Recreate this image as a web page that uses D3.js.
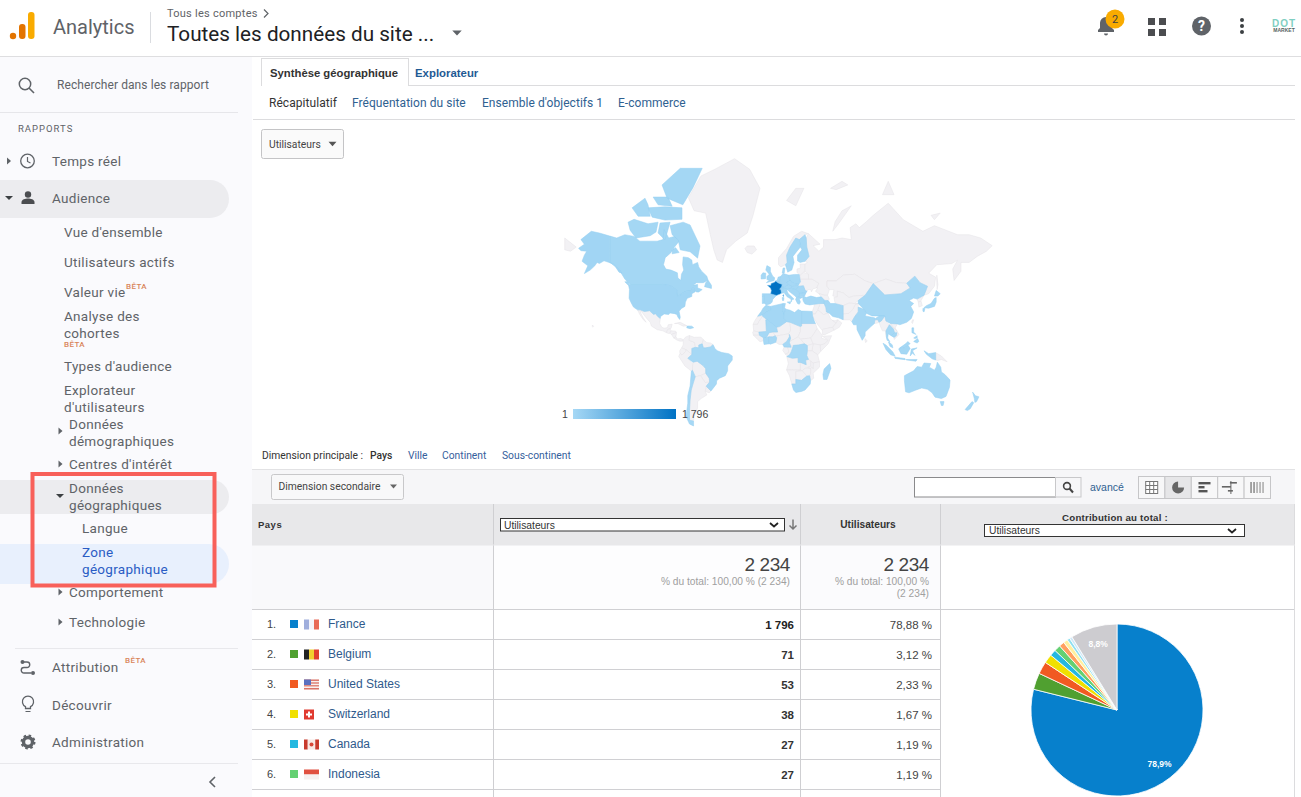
<!DOCTYPE html>
<html lang="fr">
<head>
<meta charset="utf-8">
<title>Analytics</title>
<script src="https://cdn.jsdelivr.net/npm/d3@7/dist/d3.min.js"></script>
<style>
  html, body { margin: 0; padding: 0; background: #fff; overflow: hidden; }
  svg { display: block; }
  text { white-space: pre; }
</style>
</head>
<body>
<svg id="page" width="1301" height="797"></svg>
<script>
// table data
var rowRanks = ["1.", "2.", "3.", "4.", "5.", "6."];
var rowCountries = ["France", "Belgium", "United States", "Switzerland", "Canada", "Indonesia"];
var rowUsers = [1796, 71, 53, 38, 27, 27];
var rowUserLabels = ["1 796", "71", "53", "38", "27", "27"];
var rowPctLabels = ["78,88 %", "3,12 %", "2,33 %", "1,67 %", "1,19 %", "1,19 %"];

// pie data, percent of total (after the 6th row estimated from the slices)
var pieNames = ["France", "Belgium", "United States", "Switzerland", "Canada", "Indonesia", "7", "8", "9", "10", "Autre"];
var pieShares = [78.88, 3.12, 2.33, 1.67, 1.19, 1.19, 1.0, 0.8, 0.54, 0.48, 8.8];
var pieLabels = ["78,9%", "", "", "", "", "", "", "", "", "", "8,8%"];
var pieColors = ["#0780cc", "#50a030", "#f15a22", "#f0e000", "#24b8e0", "#64d072", "#ffa060", "#fff0a0", "#90e0f0", "#d0e8f8", "#cdccd0"];

// map data: countries with visits, rest stays gray
var mapCountries = ["France", "Belgium", "United States", "Switzerland", "Canada", "Indonesia", "Morocco", "Algeria", "Tunisia", "Germany", "Spain", "United Kingdom", "Italy", "Netherlands", "Portugal", "Brazil", "China", "India", "Japan", "Australia", "Sweden", "Finland", "Poland", "Romania", "Greece", "Turkey", "Iran", "Libya", "Egypt", "Ghana", "Mali", "Ivory Coast", "Cameroon", "DR Congo", "Madagascar", "South Africa", "Chile", "New Zealand", "Thailand", "Cambodia", "Malaysia", "Philippines", "Dominican Rep.", "Denmark", "Austria", "Czechia", "Hungary", "Ireland", "Bulgaria", "Balkans"];
var mapUsers = [1796, 71, 53, 38, 27, 27, 22, 18, 12, 11, 10, 9, 9, 8, 7, 5, 5, 4, 4, 4, 3, 2, 3, 3, 2, 3, 2, 1, 2, 3, 2, 3, 1, 2, 2, 2, 1, 1, 2, 2, 2, 1, 1, 2, 2, 1, 1, 1, 1, 1];
var legendMin = 1, legendMax = 1796, legendMinLabel = "1", legendMaxLabel = "1 796";

// country outlines, lon,lat; "|" separates parts of a country
var outlines = {
  "Greenland": "-73,78.5 -68,76 -58,75.5 -54,70 -51,65 -48,61 -43.5,60 -40,65 -32,68 -22,70.5 -17,75 -11,80 -20,82.5 -33,83.6 -50,82.5 -62,81.7",
  "Iceland": "-24,65.5 -22,64 -18,63.4 -14,65 -16,66.4 -22,66.4",
  "Hawaii": "-156,20.8 -155,19.8 -155.8,19 -156.2,19.8",
  "Mexico": "-117,32.5 -114.8,32.5 -111,31.3 -106.5,31.8 -103,29 -101.5,29.7 -99.5,27.5 -97.3,26 -97.8,22 -96,19 -94,18.2 -91,18.7 -90.5,21 -87,21.5 -88,18 -89,17.8 -91,17 -92,14.5 -95,16 -100,17 -105,20 -106,23 -109.5,26.5 -112.5,30 -113,31 -114.7,31 -112,26.5 -109.5,23 -112,25 -115,29",
  "Guatemala": "-92,14.5 -91,17 -89,17.8 -88,16 -89,14 -90,13.7",
  "Honduras": "-89,14 -88,16 -84,15.8 -83.3,14.5 -87.5,13",
  "Nicaragua": "-87.5,13 -83.3,14.5 -83.7,11 -85.7,10",
  "Panama": "-85.7,10 -83.7,11 -82.5,9.2 -79.5,9.5 -77.3,8.5 -78,7.3 -80.5,7.3 -83,8.3",
  "Cuba": "-85,22 -80,23 -74.2,20.2 -77.5,19.9 -82,22",
  "Colombia": "-77.3,8.5 -75.5,10.7 -72,12.2 -72.3,8 -67.5,6.2 -67,2 -70,1 -70,-4.2 -72,-2.5 -75,0 -78.8,1.5 -77.5,4",
  "Venezuela": "-72,12 -68,10.6 -62,10.7 -60,8.5 -61,5 -64,4 -64,1.5 -67,2 -67.5,6.2 -72.3,8",
  "Guyanas": "-60,8.5 -57,6 -54,5.8 -51.6,4.3 -54,2.3 -58,1.5 -60,1.5 -61,5",
  "Ecuador": "-78.8,1.5 -75,0 -75.3,-1.5 -78.5,-4.8 -80.3,-3.3 -80.5,-1",
  "Peru": "-80.3,-3.3 -78.5,-4.8 -75.3,-1.5 -75,0 -72,-2.5 -70,-4.2 -73.5,-7.5 -70.5,-11 -69,-12.5 -69.5,-17.5 -70.4,-18.3 -76,-14 -81.3,-6",
  "Bolivia": "-69,-10.9 -65.4,-10 -60.3,-13.7 -58,-16.3 -58,-20 -62.5,-22 -67,-22.8 -69.5,-17.5",
  "Paraguay": "-62.5,-22 -58,-20 -55,-24 -54.6,-27 -58.5,-27.3",
  "Uruguay": "-57.6,-30.2 -53.4,-33.7 -55,-35 -58.4,-34",
  "Argentina": "-67,-22.8 -62.5,-22 -58.5,-27.3 -54.6,-27 -57.6,-30.2 -58.4,-34 -57,-36.5 -62,-39 -65,-41 -65,-45 -68,-50 -68.5,-52.5 -72,-52 -72,-47 -71.5,-40 -70.5,-33 -68.5,-27",
  "W. Sahara": "-13,27.7 -8.7,27.7 -12,23.5 -13,21.3 -17,21.3 -16,23.5",
  "Mauritania": "-17,21.3 -13,21.3 -12,23.5 -8.7,27.7 -4.8,25 -6,25 -5.5,15.5 -12,15 -16.5,16",
  "Senegal": "-17.3,14.7 -16.5,16 -12,15 -11.5,12.3 -16.7,12.4",
  "Guinea": "-16.7,12.4 -11.5,12.3 -8,10.2 -8,7.6 -11,6.8 -13.3,9",
  "Burkina": "-5.5,10.5 -3,14.5 0,15 2.3,12 0,11 -3,11",
  "Niger": "4.2,15 3.3,19 6,19.5 12,23.5 15,23 15.5,16 13.5,13.5 3.5,11.8 2.3,12 0,15",
  "Nigeria": "2.7,6.3 3.5,10 3.5,11.8 13.5,13.5 14.5,11 12,7 8.7,4.5 5.5,4.5",
  "Chad": "15,23 24,19.5 24,15.5 22,11 18.5,9 15.5,7.5 15.5,10 14.5,13 13.5,13.5 15.5,16",
  "Sudan": "24,19.5 25,20 25,22 37,22 38.5,18 36,14 33,10 24,9 22,11 24,15.5",
  "South Sudan": "24,9 33,10 35,5 30,3.5 27.5,5",
  "CAR": "14.5,6 15.5,7.5 18.5,9 22,11 24,9 27.5,5 22,4 16,3",
  "Ethiopia": "36,14 38.5,18 43,12 42,10 48,8 45,5 41.5,4 35,5 33,10",
  "Somalia": "43,11.5 51,12 48,5 41.5,-1.6 41,4 45,5 48,8",
  "Kenya": "35,5 41,4 41.5,-1.6 39,-4.6 34,-1",
  "Uganda": "30,3.5 35,5 34,-1 30,-1",
  "Tanzania": "30,-1 34,-1 39,-4.6 40.5,-10.5 35,-11.5 31,-8.5 29.5,-5",
  "Gabon": "9.8,2.3 13,2.3 14,-2.5 11,-4 8.7,-0.8",
  "Congo": "13,2.3 16,3 18,3.7 16,-2 14.5,-4.7 12,-5 11,-4 14,-2.5",
  "Angola": "12.2,-6 17,-7.5 22,-7 22,-11 24,-11 24,-17.5 12,-17.3 13.5,-12",
  "Zambia": "24,-11 29,-13 28.5,-9 31,-8.5 33,-10 33,-14 28,-16 25.5,-18 24,-17.5",
  "Zimbabwe": "25.5,-18 28,-16 33,-16 32.8,-21 29.5,-22.3",
  "Mozambique": "35,-11.5 40.5,-10.5 40.5,-15 35,-20 35.5,-24 32.8,-26 32,-22 32.8,-21 33,-16 30,-15.5 33,-14.5 35,-16",
  "Malawi": "33,-10 35,-11.5 35,-16 33,-14.5",
  "Namibia": "12,-17.3 24,-17.5 25,-18 20,-18.5 20,-28.5 16.5,-28.5 14.5,-22",
  "Botswana": "20,-18.5 25.5,-18 29.5,-22.3 25,-25.7 20,-25",
  "Ukraine": "24,50.5 24,52 31,52 34,52 40,49.7 38,47 35,46.5 33.5,44.6 33,46 30.5,46 29.7,45 28.2,45.4 26.6,48.3 22.8,48 22.5,49.1",
  "Belarus": "24,52 23.5,53.9 26.5,55.5 31,54.5 31,52",
  "Baltics": "23,54.3 23.5,53.9 26.5,55.5 28,56 28,59.3 23.7,59.3 24,57.5 21,57 21,55.3",
  "Norway": "5,59 7,58 11,59 12.5,60 12,63 15,66 20,69 23,68.5 28,70 31,70.3 25,71 18,69.5 12,65.5 5,62",
  "Svalbard": "12,78 20,80 27,80 20,77",
  "Novaya Zemlya": "52,71 57,73 68,77 60,76 54,73.5",
  "Franz Josef": "50,80 60,81 65,80.5 55,79.8",
  "Severnaya": "95,79 105,79 100,81",
  "New Siberian": "137,75 145,75.5 140,74",
  "Russia": "31,70.3 41,67 35,66.5 40,64.5 44,66 44,68.5 54,68.5 60,69 68,68.5 67,72 72,73 75,72 81,73.5 87,75 100,77.5 113,74 130,71 140,72.5 160,70 170,70 180,69 190,66.5 185,64.5 177,62.5 170,60 163,60 163,56 157,51.2 155.8,57 160,61 155,59.5 142,59 135,55 141,53 140,48 135,43.5 131,42.5 134,48 127.5,50 123,53.5 116,49.7 107,50 98,52 87,49.5 80,51 71,54.5 61,54 55,51 47,51 47,48 49,46 47.5,42.5 45,42.5 40,43.5 37,45 39,47 38,47 40,49.7 34,52 31,52 31,54.5 28,56 28,59.3 30,60 28,60.5 31.5,62.5 29.5,66 29,69|-180,69 -170,66 -175,64.5 -180,65|142,54 143,49 142.3,46 142,50",
  "Kazakhstan": "47,48 47,51 55,51 61,54 71,54.5 80,51 87,49.5 80,42.5 70,42 66,41 61,44 56,45 56,41.5 52,42 53,46 49,46",
  "Uzbekistan": "56,45 61,44 66,41 70,42 80,42.5 74,39 71,37 66,37.3 61,35.5 54,37.3 53,41 56,41.5",
  "Mongolia": "87,49.5 98,52 107,50 116,49.7 119,47 111,43.5 97,42.7",
  "North Korea": "125,40 131,42.5 128,38.5 126,38",
  "South Korea": "126,38 128.5,38.5 129.5,35.5 126.5,34.5",
  "Taiwan": "120.2,23 121,25 122,25 121,22",
  "Pakistan": "61,25 61,29.5 66,30 69.5,33 71.5,36.5 74,37 74,34.5 74,31 71,27.5 68.5,23.5 66.5,25",
  "Afghanistan": "61,35.5 66,37.3 71,37 74,37 71.5,36.5 69.5,33 66,30 61,29.5 61,32",
  "Iraq": "39,32.5 41,37 44.5,37 46,34 46.5,31 48,30 44,29",
  "Syria": "36,36.5 41,37 39,32.5 37,29.5 35,29.5 34.3,31.3 35.8,35",
  "Saudi Arabia": "34.5,28 35,29.5 37,29.5 39,32.5 44,29 48,30 50,26 51.5,24.5 55,22.5 52,19 44,17.5 42.7,16.5 39,21",
  "Yemen": "43,13 43,16.7 44,17.5 52,19 53,16.5 45,12.8",
  "Oman": "53,16.5 52,19 55,22.5 56.3,25 59.8,22.5 57.7,19",
  "UAE": "51.5,24.5 55,22.5 56.3,25 54,24.2",
  "Caucasus": "40,43.5 45,42.5 47.5,42.5 49,40 48,39 44.5,39.5 42,41.5",
  "Myanmar": "92,23 94,24 97,28 98,24 101,21 98,16 98.5,10 97.5,16 95,16 94,18",
  "Laos": "100.5,20.5 102,22 104,19.5 107.5,16 105.5,14.5 104.5,17.5 101,21",
  "Vietnam": "102,22 108,21.7 106,18.5 109.3,13 107,10.5 105,8.7 105,10.5 107,12 107.5,16 104,19.5",
  "Bangladesh": "88,22 88.5,25 91,25 92,23 91,22.5",
  "Papua New Guinea": "141,-2.6 146,-5.5 151,-10.5 146,-8.5 143,-9.3 141,-9",
  "Sri Lanka": "80,9.5 81.8,7.5 80.5,6 79.8,8",

  "Canada": "-141,69.6 -135,69 -128,70 -120,69.5 -115,68 -108,68 -100,68 -95,68.5 -94,71.5 -90,69 -85,69.5 -81,68 -85,66 -88,64 -93,62 -94.5,59 -92.5,57 -88,56.5 -82.5,55.2 -82,52.5 -79.5,51.3 -79,54.5 -77,56.5 -78,59 -77.5,62.3 -73,62 -70,61 -69.5,59 -65,60 -64,58 -61.5,56 -57,53.5 -56,51.5 -60,50 -66,50 -69,48.5 -65,49 -65,47 -61,46 -64,44.5 -66,44.5 -67,45.5 -69,47.3 -71,45.2 -75,45 -79,43.5 -79,42.8 -83,42 -82.5,45.5 -84.5,46.5 -88.5,48.3 -95,49 -123,49 -125,50 -128,52 -130.5,54.5 -133,57 -137,59 -141,60|-88.8,72.5 -77.5,73.4 -71.5,72.7 -62.9,66.4 -65,61.8 -71.5,64.3 -80,65 -81.8,68.4 -87,70|-125.2,73.4 -120,74.1 -107.9,73 -99.2,73.4 -101,70.8 -106,69.7 -118.3,69 -123.4,71.3|-97.5,73.2 -88.8,73.4 -93.2,68.4 -99.2,70.5|-95.8,80.5 -80,82.6 -61,82.6 -69,80.1 -77.8,77.2 -91.4,78.4|-103.5,78.6 -90.6,78.6 -87,76.9 -99.2,77.2|-121.7,76.6 -110.5,78.4 -107.9,77.2 -106,74.8 -116.5,74.8|-107.9,76.6 -93.2,76.8 -78.5,76.6 -78.5,74.1 -93.2,73.9 -104.3,74.6|-59,47.7 -53,46.7 -53,48.5 -56,51.5 -58,50|-87,63.5 -81,64 -84,65.8 -87,65|-128,50.5 -125,48.5 -123.5,48.5 -126,50.5",
  "United States": "-123,49 -95,49 -88.5,48.3 -84.5,46.5 -82.5,45.5 -83,42 -79,42.8 -79,43.5 -75,45 -71,45.2 -69,47.3 -67,45.5 -67,44.7 -70,43.5 -70,41.7 -74,40.5 -75.5,38 -76,35 -79,33.5 -81,31.5 -80,27 -80.5,25.2 -82,27 -83,29 -85,29.7 -89,30.2 -90,29 -94,29.5 -97,27.5 -97.3,26 -99.5,27.5 -101.5,29.7 -103,29 -106.5,31.8 -111,31.3 -114.8,32.5 -117,32.5 -120.5,34.5 -122.5,37.5 -124.3,40.5 -124,46 -124.7,48.4|-141,69.6 -141,60 -137,59 -133,57 -130.5,55 -133,55.5 -136,58 -140,59.7 -146,60.7 -150,59.5 -152,60 -154,58.5 -158,56.5 -163,54.8 -160,58.5 -165,60.5 -163,63 -161,64.5 -166,64.7 -168,65.6 -163,67 -166,68.5 -157,71 -150,70.5",
  "Dominican Rep.": "-74.4,18.5 -74,20 -70,19.9 -68.4,18.6 -71.5,17.8",
  "Brazil": "-51.6,4.3 -50,1 -48,-1 -44,-2.5 -38,-3.5 -35,-5.5 -35,-9 -39,-14 -39,-18 -41,-22 -46,-24 -48.5,-26 -48.7,-28.5 -53.4,-33.7 -57.6,-30.2 -54.6,-27 -55,-24 -58,-20 -58,-16.3 -60.3,-13.7 -65.4,-10 -69,-10.9 -73.5,-7.5 -70,-4.2 -70,1 -67,2 -64,1.5 -64,4 -61,5 -60,1.5 -58,1.5 -54,2.3",
  "Chile": "-69.5,-17.5 -67,-22.8 -68.5,-27 -70.5,-33 -71.5,-40 -72,-47 -72,-52 -68.5,-52.5 -68.5,-55 -72,-54 -75,-50 -73.5,-42 -73.5,-37 -71.5,-30 -70.4,-18.3",
  "Morocco": "-5.9,35.8 -2,35 -1.2,32.5 -5,31 -8.7,28.7 -13,27.7 -9.8,31.5 -8.5,33.5",
  "Algeria": "-2,35 9,37 8.5,32 9.8,30 9.5,26.5 12,23.5 6,19.5 3.3,19 -4.8,25 -8.7,27.7 -8.7,28.7 -5,31 -1.2,32.5",
  "Tunisia": "9,37 11,37 10.3,34 11.5,33 9.8,30 8.5,32",
  "Libya": "11.5,33 15,32.3 19,30.5 22,32.8 25,31.6 25,20 24,19.5 15,23 12,23.5 9.5,26.5 9.8,30",
  "Egypt": "25,31.6 31,31.5 34.2,31.3 34.5,28 36,24 37,22 25,22",
  "Mali": "-12,15 -5.5,15.5 -6,25 -4.8,25 3.3,19 4.2,15 0,15 -3,14.5 -5.5,10.5 -8,10.2 -11.5,12.3",
  "Ivory Coast": "-8,10.2 -5.5,10.5 -3,11 -3,5 -7.5,4.4 -8,7.6",
  "Ghana": "-3,11 0,11 2.3,12 3.5,10 2.7,6.3 -2,4.7 -3,5",
  "Cameroon": "8.7,4.5 12,7 14.5,11 14.5,13 15.5,10 14.5,6 16,2 9.8,2.3",
  "DR Congo": "18,3.7 22,4 27.5,5 30,3.5 30,-1 29.5,-5 31,-8.5 28.5,-9 29,-13 24,-11 22,-11 22,-7 17,-7.5 12.2,-6 14.5,-4.7 16,-2",
  "South Africa": "16.5,-28.5 20,-28.5 20,-25 25,-25.7 29.5,-22.3 32,-22 32.8,-26 32.5,-28.5 28,-33 25,-34 20,-34.8 18,-33",
  "Madagascar": "49.3,-12 50.4,-16 47,-25 44,-25 43.5,-21 44.5,-16.5",
  "Spain": "-9,43.5 -1.8,43.4 3.2,42.4 0,39.8 -0.5,38 -2,36.8 -5.5,36 -7.3,37.2 -7,41.8 -9,41.8",
  "Portugal": "-9,41.8 -7,41.8 -7.3,37.2 -9,37",
  "Belgium": "2.5,51 4,51.4 6,50.6 5.8,49.6 4.5,50",
  "Netherlands": "4,51.4 4.7,53 7,53.3 6,50.8 6,50.6",
  "Germany": "6,50.8 7,53.5 9,54.8 14,54 15,51 12.2,50.3 13.7,48.7 10,47.3 7.6,47.6 8.2,49 5.8,49.6 6,50.6",
  "Switzerland": "6,46.2 7,46 10.4,46.7 9.5,47.5 7.6,47.6",
  "Italy": "7,46 7.5,43.8 10,44 12.5,41.5 15.8,40 16,38 16.5,39.5 18.4,40 16,41.8 13.5,43.5 12.3,45.3 13.7,46.5 10.4,46.7|12.5,38 15.5,38.2 15,36.7|8.2,41 9.7,41 9.5,39 8.5,39",
  "Austria": "10,47.3 13.7,48.7 17,48.2 16,46.8 13.7,46.5 10.4,46.7",
  "Poland": "14,54 19,54.4 23,54.3 24,50.5 22.5,49.1 19,49.4 15,51",
  "Czechia": "12.2,50.3 15,51 19,49.4 22.5,49.1 22,48.4 17,48.2 13.7,48.7",
  "Hungary": "17,48.2 22,48.4 22.8,48 20.5,46 16.5,46.5 16,46.8",
  "Romania": "22.8,48 26.6,48.3 28.2,45.4 29.7,45 28.6,43.7 22.7,44 20.5,46",
  "Bulgaria": "22.7,44 28.6,43.7 27.6,42 22.5,41.3",
  "Balkans": "13.7,46.5 16,46.8 16.5,46.5 20.5,46 22.7,44 22.5,41.3 20.5,41 19.4,42 15.5,44.2 13.6,45.3",
  "Greece": "20.5,41 22.5,41.3 26.3,41.4 23,40 24,38 23,36.5 21.5,37 19.8,39.7",
  "Finland": "23.7,60 28,60.5 31.5,62.5 29.5,66 29,69 28,70 23,68.5 24,66 25.3,65 21.5,63 21.5,60.7",
  "Sweden": "11,59 13,55.5 14.5,56 16.5,56.5 18.5,60 17.5,62.5 21,64.5 24,66 23,68.5 20,69 15,66 12,63 12.5,60",
  "Denmark": "8.2,55 9,57.5 10.5,57.5 10,55",
  "United Kingdom": "-5.5,50 1.3,51.2 1.7,52.7 0,53.5 -2,55.8 -2,57.7 -5,58.6 -6,56.5 -3,54.5 -5,53.3 -5,51.7 -3,51.3",
  "Ireland": "-10,52 -6.2,52.2 -6,55 -8.5,55.2 -10,54",
  "China": "74,39 80,42.5 87,49.5 97,42.7 111,43.5 119,47 116,49.7 123,53.5 127.5,50 134,48 131,42.5 125,40 122,40.7 118,39 122,37 119.5,35 122,31 120,26 116,23 110,21 108,21.7 102,22 98,24 97,28 92,28 86,28 81,30 79,33 74,37",
  "Japan": "130.8,34 135,33.7 140,35 141.5,38 141.5,41 140,40.5 137,37 133,35.5|140,42 141.5,45.5 145,43.5 143,42|130,33.5 131.8,33.5 131,31 130,31.5",
  "India": "68.5,23.5 71,27.5 74,31 74,34.5 79,33 81,30 80,28 88,26.5 89,26 92,28 97,28 94,24 92,23 91,25 88.5,25 88,22 85,19.5 80,15 80,12 77.5,8 76,11 73,17 72.8,21 70,21",
  "Iran": "44.5,39 48,39 50,37 54,37 61,35.5 61,32 61,29.5 61,25 57,26.5 52,27.5 49,30 46.5,31 46,34 44.5,37",
  "Turkey": "26,40 26.5,42 29,41 33,42 38,41 42,41.5 44.5,39.5 44.5,37 41,37 36,36.5 32,36 28,36.7 26.5,38.5",
  "Thailand": "101,21 104.5,17.5 105.5,14.5 102.5,12 100,13.5 99.5,10 101.5,6.7 99,8 98.5,10 98,16",
  "Cambodia": "102.5,12 105.5,14.5 107.5,14.5 107,12 105,10.5",
  "Malaysia": "100.2,6.5 101.5,6 103.5,4 104,1.5 101.5,2.8|110,1.5 115,5 117,7 119,5 117,4 115,2 112,1",
  "Indonesia": "95.5,5.5 98,4 104,-2 106,-5.8 102,-4.5 98,0|105.5,-6.5 114.5,-7.7 114.5,-8.7 106,-7.6|109,0.5 110,1.5 112,1 115,2 117,4 119,1 116,-4 111,-3.5|119,-5.5 120,0.5 125,1.5 121,-1 123,-5 121,-3|131,-1 135,-3.5 141,-2.6 141,-9 138,-8 133,-4|115,-8.5 125,-8.5 124,-10 116,-9",
  "Philippines": "120.5,18.5 122,18.5 122,15 124,13 120.5,14.5|122,7 125.5,9.5 126.5,7 125,5.7|122,10 125,12 125,10 123,9.5",
  "Australia": "114,-22 114,-26 115,-34.3 118,-35 124,-33 129,-31.5 134,-32.5 138,-35 140.5,-38 146,-39 150,-37.5 153,-31 153.5,-25.5 149,-21 146,-19 145.5,-15 142.5,-10.8 141.5,-15 140,-17.5 135.5,-15 136.8,-12 131,-11.5 129,-15 125,-14.5 122,-18 117,-20.5|145,-41 148.3,-41 147.5,-43.5 146,-43.5",
  "New Zealand": "173,-34.5 175.5,-37 178.5,-37.8 176.5,-41 175,-41.5 174.5,-39|172.5,-41 174,-41.7 171,-45.5 168.5,-46.6 166.5,-46",
  "France": "-1.8,43.4 3.2,42.4 6,43.1 7.5,43.8 7,46 6,46.2 7.6,47.6 8.2,49 5.8,49.6 4.5,50 2.5,51 1.5,50.2 -1.5,49.5 -1.5,48.6 -4.7,48.5 -2,47 -1.2,45.5|8.6,42.3 9.5,43 9.4,41.5"
};

// page texts
var navLabels = [["Temps réel"], ["Audience"], ["Vue d'ensemble"], ["Utilisateurs actifs"], ["Valeur vie"], ["Analyse des", "cohortes"], ["Types d'audience"], ["Explorateur", "d'utilisateurs"], ["Données", "démographiques"], ["Centres d'intérêt"], ["Données", "géographiques"], ["Langue"], ["Zone", "géographique"], ["Comportement"], ["Technologie"], ["Attribution"], ["Découvrir"], ["Administration"]];
var navX = [52, 52, 64, 64, 64, 64, 64, 64, 69, 69, 69, 82, 82, 69, 69, 52, 52, 52];
var navY = [166, 203, 237, 267, 297, 321, 371, 395, 429, 469, 493, 533, 557, 597, 627, 672, 710, 747];
var navCarets = [["r", 9, 161], ["d", 9, 198], ["r", 60.5, 431], ["r", 60.5, 464], ["d", 60, 496], ["r", 60.5, 592], ["r", 60.5, 622]];
var betaMarks = [[126, 289], [64, 347], [125, 663]];
var subTabs = ["Récapitulatif", "Fréquentation du site", "Ensemble d'objectifs 1", "E-commerce"];
var subTabX = [269, 352, 482, 618];
var dimLabels = ["Pays", "Ville", "Continent", "Sous-continent"];
var dimX = [370, 408, 442, 502];

var svg = d3.select("#page");
var roboto = "Roboto, sans-serif", arial = "'Liberation Sans', Arial, sans-serif";

function txt(x, y, s, size, fill, font, opts) {
  opts = opts || {};
  return svg.append("text").attr("x", x).attr("y", y).text(s)
    .attr("font-size", size).attr("fill", fill).attr("font-family", font)
    .attr("font-weight", opts.weight || 400)
    .attr("text-anchor", opts.anchor || "start")
    .attr("letter-spacing", opts.spacing || 0);
}
function box(x, y, w, h, fill, stroke, rx) {
  return svg.append("rect").attr("x", x).attr("y", y).attr("width", w).attr("height", h)
    .attr("fill", fill || "none").attr("stroke", stroke || "none").attr("rx", rx || 0);
}
function hline(x1, x2, y, c) {
  svg.append("line").attr("x1", x1).attr("x2", x2).attr("y1", y).attr("y2", y).attr("stroke", c);
}
function vline(x, y1, y2, c) {
  svg.append("line").attr("x1", x).attr("x2", x).attr("y1", y1).attr("y2", y2).attr("stroke", c);
}
function tri(cx, cy, w, h, c, dir) {
  var p = dir === "r" ? [[cx - h / 2, cy - w / 2], [cx + h / 2, cy], [cx - h / 2, cy + w / 2]]
                      : [[cx - w / 2, cy - h / 2], [cx + w / 2, cy - h / 2], [cx, cy + h / 2]];
  svg.append("path").attr("d", d3.line()(p) + "Z").attr("fill", c);
}

// ---- sidebar backgrounds
box(0, 57, 252, 740, "#fafafd");
svg.append("path").attr("d", "M0,180H210a19,19 0 0 1 0,38H0Z").attr("fill", "#ececef");
svg.append("path").attr("d", "M0,480H212a17,17 0 0 1 0,34H0Z").attr("fill", "#ececef");
svg.append("path").attr("d", "M0,544H209a20,20 0 0 1 0,40H0Z").attr("fill", "#e8f0fd");

// ---- header
box(0, 0, 1301, 56, "#fff");
hline(0, 1301, 56.5, "#dedee0");
svg.append("circle").attr("cx", 13).attr("cy", 36).attr("r", 3.2).attr("fill", "#e37400");
box(19, 24, 6.5, 15, "#e37400", null, 3);
box(28, 12, 6.5, 27, "#f9ab00", null, 3);
txt(53, 34, "Analytics", 20, "#5f6368", roboto);
vline(150.5, 12, 43, "#dadce0");
txt(167, 17, "Tous les comptes", 11, "#5f6368", roboto, { spacing: 0.25 });
svg.append("path").attr("d", "M264,9.5l4,4l-4,4").attr("fill", "none").attr("stroke", "#5f6368").attr("stroke-width", 1.2);
txt(167, 41, "Toutes les données du site ...", 20.7, "#202124", roboto);
tri(457, 33, 9.5, 5, "#5f6368", "d");

// bell, apps, help, menu, account
svg.append("path").attr("d", "M1098,32v-2l2,-2v-5a6,6 0 0 1 12,0v5l2,2v2ZM1104,33.5h4a2,2 0 0 1 -4,0Z").attr("fill", "#5f6368");
svg.append("circle").attr("cx", 1115).attr("cy", 19).attr("r", 9.5).attr("fill", "#f9ab00");
txt(1115, 23, "2", 11, "#3c4043", roboto, { anchor: "middle" });
d3.cross([1148, 1159], [18, 29]).forEach(function (c) { box(c[0], c[1], 7, 7, "#4b4d50"); });
svg.append("circle").attr("cx", 1201.5).attr("cy", 26).attr("r", 9.5).attr("fill", "#5f6368");
txt(1201.5, 31, "?", 14, "#fff", roboto, { anchor: "middle", weight: 700 });
[20, 26, 32].forEach(function (y) { svg.append("circle").attr("cx", 1242).attr("cy", y).attr("r", 2).attr("fill", "#3c4043"); });
txt(1284, 27, "DOT", 10, "#7fcfc2", arial, { anchor: "middle", weight: 700, spacing: 1 });
txt(1284, 32, "MARKET", 5, "#55635f", arial, { anchor: "middle", weight: 700 });

// ---- sidebar
svg.append("circle").attr("cx", 25).attr("cy", 84).attr("r", 5.7).attr("fill", "none").attr("stroke", "#5f6368").attr("stroke-width", 1.5);
svg.append("line").attr("x1", 29).attr("y1", 88).attr("x2", 34).attr("y2", 93).attr("stroke", "#5f6368").attr("stroke-width", 1.6);
txt(57, 89, "Rechercher dans les rapport", 12, "#5f6368", roboto, { spacing: 0.08 });
hline(0, 238, 112.5, "#e6e6ea");
txt(18, 132, "RAPPORTS", 9.5, "#5f6368", roboto, { spacing: 1 });

navLabels.forEach(function (lines, i) {
  lines.forEach(function (line, j) {
    txt(navX[i], navY[i] + j * 17, line, 13.5, i === 12 ? "#2a5cc4" : "#5f6368", roboto, { spacing: 0.3 });
  });
});
navCarets.forEach(function (c) {
  if (c[0] === "r") tri(c[1], c[2], 7, 4, "#5f6368", "r");
  else tri(c[1], c[2], 8, 4, "#3c4043", "d");
});
betaMarks.forEach(function (b) {
  txt(b[0], b[1], "BÊTA", 8, "#d9855a", roboto, { weight: 500, spacing: 0.4 });
});
hline(15, 238, 648.5, "#e8e8ec");
hline(0, 238, 763.5, "#e8e8ec");

// sidebar icons
svg.append("circle").attr("cx", 27.5).attr("cy", 161).attr("r", 6.8).attr("fill", "none").attr("stroke", "#5f6368").attr("stroke-width", 1.3);
svg.append("path").attr("d", "M27.5,157v4.5l3,1.5").attr("fill", "none").attr("stroke", "#5f6368").attr("stroke-width", 1.2);
svg.append("circle").attr("cx", 28).attr("cy", 194.5).attr("r", 3.2).attr("fill", "#4b4d50");
svg.append("path").attr("d", "M21.5,204v-2c0,-2.5 4,-3.6 6.5,-3.6s6.5,1.1 6.5,3.6v2Z").attr("fill", "#4b4d50");
svg.append("path").attr("d", "M23,662h4a2.6,2.6 0 0 1 0,5.5h-3a2.6,2.6 0 0 0 0,5.5h7").attr("fill", "none").attr("stroke", "#5f6368").attr("stroke-width", 1.4);
svg.append("circle").attr("cx", 22.5).attr("cy", 662).attr("r", 2).attr("fill", "#5f6368");
svg.append("circle").attr("cx", 33).attr("cy", 673).attr("r", 2).attr("fill", "#5f6368");
svg.append("path").attr("d", "M25.5,708.5v-1.8a5.6,5.6 0 1 1 5,0v1.8Z").attr("fill", "none").attr("stroke", "#5f6368").attr("stroke-width", 1.3);
hline(25.5, 30.5, 711.5, "#5f6368");
svg.append("circle").attr("cx", 28).attr("cy", 742).attr("r", 4.5).attr("fill", "none").attr("stroke", "#5f6368").attr("stroke-width", 3.4);
svg.append("circle").attr("cx", 28).attr("cy", 742).attr("r", 6.4).attr("fill", "none").attr("stroke", "#5f6368").attr("stroke-width", 2.2).attr("stroke-dasharray", "2.5 2.5");
svg.append("path").attr("d", "M215,777l-5,5l5,5").attr("fill", "none").attr("stroke", "#5f6368").attr("stroke-width", 1.6);

// highlight box around the menu entries
box(32.5, 474, 182, 111.5, "none", "#f8605a").attr("stroke-width", 4);

// ---- tabs
hline(408, 1295, 85.5, "#dcdcde");
box(261.5, 58.5, 147, 27, "#fff", "#dcdcde");
hline(262, 408, 85.5, "#fff");
txt(270, 77, "Synthèse géographique", 11.3, "#333", arial, { weight: 700 });
txt(415, 77, "Explorateur", 11.4, "#1f5a94", arial, { weight: 700 });
subTabs.forEach(function (s, i) {
  txt(subTabX[i], 107, s, 12, i === 0 ? "#333" : "#2f6191", roboto, { spacing: 0.05 });
});
hline(253, 1295, 119.5, "#dcdcde");

box(261.5, 129.5, 82, 29, "#fafafa", "#c4c4c6", 2);
txt(269, 148, "Utilisateurs", 10.3, "#444", roboto);
tri(332.5, 144, 8, 4.5, "#555", "d");

// ---- map
var projection = d3.geoMercator().scale(66.2).translate([772.7, 349.6]);
var worldWidth = 2 * Math.PI * projection.scale();
var mapValue = new Map(mapCountries.map(function (c, i) { return [c, mapUsers[i]]; }));
var mapColor = d3.scaleLinear().domain([legendMin, legendMax]).range(["#a6d8f5", "#0072c4"]);
var ringLine = d3.line().curve(d3.curveLinearClosed);

// points past the date line stay on the east side of the map
function projectPoint(lon, lat) {
  if (lon <= 180) return projection([lon, lat]);
  var p = projection([lon - 360, lat]);
  return [p[0] + worldWidth, p[1]];
}

var mapShapes = Object.keys(outlines).map(function (name) {
  var d = outlines[name].split("|").map(function (part) {
    return ringLine(part.split(" ").map(function (p) {
      var c = p.split(",").map(Number);
      return projectPoint(c[0], c[1]);
    }));
  }).join("");
  return { name: name, d: d };
});

svg.append("g").selectAll("path").data(mapShapes).enter().append("path")
  .attr("d", function (d) { return d.d; })
  .attr("fill", function (d) { return mapValue.has(d.name) ? mapColor(mapValue.get(d.name)) : "#f2f1f4"; })
  .attr("stroke", function (d) { return mapValue.has(d.name) ? "#95cff0" : "#e4e3e7"; })
  .attr("stroke-width", 0.5)
  .attr("stroke-linejoin", "round");

// map legend
var grad = svg.append("defs").append("linearGradient").attr("id", "mapLegend");
grad.append("stop").attr("offset", "0%").attr("stop-color", mapColor(legendMin));
grad.append("stop").attr("offset", "100%").attr("stop-color", mapColor(legendMax));
box(573, 409, 103, 10, "url(#mapLegend)");
txt(565, 418, legendMinLabel, 10.5, "#444", arial, { anchor: "middle" });
txt(682, 418, legendMaxLabel, 10.5, "#444", arial);

// ---- dimension row
txt(262, 459, "Dimension principale :", 10.3, "#333", roboto);
dimLabels.forEach(function (s, i) {
  txt(dimX[i], 459, s, 10.3, i === 0 ? "#333" : "#35609c", roboto, { weight: i === 0 ? 500 : 400 });
});

box(252, 470, 1043, 34, "#f6f6f8");
hline(252, 1295, 469.5, "#e2e2e4");
box(271.5, 474.5, 132, 25, "#f8f8f9", "#c8c8ca", 2);
txt(278.5, 490, "Dimension secondaire", 10.3, "#444", roboto);
tri(393.5, 486.5, 7, 4, "#666", "d");

box(914.5, 477.5, 141, 19.5, "#fff", "#8a8a8c");
box(1055.5, 477.5, 25.5, 19.5, "#f6f6f8", "#c8c8ca");
svg.append("circle").attr("cx", 1067).attr("cy", 486).attr("r", 3.4).attr("fill", "none").attr("stroke", "#444").attr("stroke-width", 1.6);
svg.append("line").attr("x1", 1069.5).attr("y1", 488.5).attr("x2", 1073).attr("y2", 492.5).attr("stroke", "#444").attr("stroke-width", 2);
txt(1090, 491, "avancé", 10.5, "#2f6191", arial);

// view buttons
var viewX = d3.scaleBand().domain(d3.range(5)).range([1138.5, 1270.5]);
svg.selectAll("rect.view").data(d3.range(5)).enter().append("rect").attr("class", "view")
  .attr("x", function (d) { return viewX(d); }).attr("y", 476.5)
  .attr("width", viewX.bandwidth()).attr("height", 22)
  .attr("fill", function (d) { return d === 1 ? "#e6e6e8" : "#f7f7f8"; }).attr("stroke", "#c6c6c8");
var vc = function (i) { return viewX(i) + viewX.bandwidth() / 2; };
box(vc(0) - 6, 481.5, 12, 12, "#fff", "#777");
[-2, 2].forEach(function (o) { vline(vc(0) + o, 481.5, 493.5, "#777"); hline(vc(0) - 6, vc(0) + 6, 487.5 + o, "#777"); });
var viewPie = d3.arc().innerRadius(0).outerRadius(6);
svg.append("path").attr("transform", "translate(" + vc(1) + ",487.5)")
  .attr("d", viewPie({ startAngle: 1.57, endAngle: 6.28 })).attr("fill", "#666");
[[0, 12], [4, 6], [8, 9]].forEach(function (b) { box(vc(2) - 6, 482 + b[0], b[1], 2.4, "#555"); });
[[0, 3, 7], [4, -5, 9], [8, 1, 5]].forEach(function (b) { box(vc(3) - 4 + b[1], 482 + b[0], b[2], 1.6, "#666"); });
vline(vc(3), 481, 494, "#666");
[-6, -3, 0, 3, 6].forEach(function (o, i) { box(vc(4) + o - 1, 482, 1.5, 11, i < 2 ? "#888" : "#aaa"); });

// ---- table
box(252, 504, 1043, 41, "#e8e8ea");
box(252, 545, 241, 64, "#f9f9fb");
box(494, 545, 306, 64, "#fdfdfe");
box(801, 545, 139, 64, "#fbfbfd");
txt(258, 528, "Pays", 9.5, "#333", arial, { weight: 700, spacing: 0.5 });
box(500.5, 518.5, 284, 12.5, "#fff", "#333");
txt(504, 528.5, "Utilisateurs", 10.3, "#333", arial);
function chev(x, y) {
  svg.append("path").attr("d", "M" + (x - 4) + "," + (y - 2) + "l4,3.5l4,-3.5").attr("fill", "none").attr("stroke", "#222").attr("stroke-width", 1.8);
}
chev(774, 525);
svg.append("path").attr("d", "M793,519.5v9M789.5,525.5l3.5,3.5l3.5,-3.5").attr("fill", "none").attr("stroke", "#777").attr("stroke-width", 1.5);
txt(868, 528, "Utilisateurs", 10.2, "#333", arial, { weight: 700, anchor: "middle" });
txt(1115, 521, "Contribution au total :", 9.7, "#333", arial, { weight: 700, anchor: "middle", spacing: 0.2 });
box(984.5, 524.5, 260, 12, "#fff", "#333");
txt(989, 534, "Utilisateurs", 10.3, "#333", arial);
chev(1232, 531);

txt(790, 571, "2 234", 19, "#444", arial, { anchor: "end", spacing: -0.4 });
txt(790, 585, "% du total: 100,00 % (2 234)", 10.2, "#a0a0a0", arial, { anchor: "end" });
txt(929, 571, "2 234", 19, "#444", arial, { anchor: "end", spacing: -0.4 });
txt(929, 585, "% du total: 100,00 %", 10.2, "#a0a0a0", arial, { anchor: "end" });
txt(929, 597, "(2 234)", 10.2, "#a0a0a0", arial, { anchor: "end" });

var rowY = d3.scaleBand().domain(d3.range(rowCountries.length)).range([609.5, 789.5]);
var rowH = rowY.bandwidth();

rowCountries.forEach(function (name, i) {
  var y = rowY(i), mid = y + rowH / 2;
  txt(267, mid + 3.5, rowRanks[i], 11, "#444", arial);
  box(290, mid - 4.5, 8, 8, pieColors[i]);
  drawFlag(name, 304, mid - 5);
  txt(328, mid + 3.5, name, 12, "#2f5a8c", arial);
  txt(794, mid + 4, rowUserLabels[i], 11.5, i === 0 ? "#222" : "#333", arial, { anchor: "end", weight: 700 });
  txt(932, mid + 4, rowPctLabels[i], 11.5, "#444", arial, { anchor: "end" });
});

d3.range(rowCountries.length + 1).forEach(function (i) {
  hline(252, 940, 609.5 + i * rowH, "#d0d0d3");
});
hline(940, 1295, 609.5, "#d0d0d3");
[493.5, 800.5, 940.5].forEach(function (x) { vline(x, 504, 797, "#cfcfd2"); });
vline(1294.5, 504, 797, "#dcdcde");
hline(252, 1295, 545, "#e8e8ea");

// small flags, stripes are plain rects
function drawFlag(name, x, y) {
  var w = 15, h = 10;
  function vert(cols) {
    cols.forEach(function (c, k) { box(x + k * w / cols.length, y, w / cols.length, h, c); });
  }
  function horiz(rows) {
    rows.forEach(function (c, k) { box(x, y + k * h / rows.length, w, h / rows.length, c); });
  }
  if (name === "France") vert(["#a0aedc", "#f4f4fa", "#e86a58"]);
  if (name === "Belgium") vert(["#222", "#f0d030", "#e04030"]);
  if (name === "United States") {
    horiz(["#d86a5c", "#f8f0ee", "#d86a5c", "#f8f0ee", "#d86a5c", "#f8f0ee", "#d86a5c"]);
    box(x, y, 7, 5.5, "#5a70c0");
  }
  if (name === "Switzerland") {
    box(x, y, 10, h, "#e03a30");
    box(x + 2, y + 4, 6, 2, "#fff");
    box(x + 4, y + 2, 2, 6, "#fff");
  }
  if (name === "Canada") {
    vert(["#c83a2c", "#f8e8e4", "#f8e8e4", "#c83a2c"]);
    svg.append("circle").attr("cx", x + 7.5).attr("cy", y + 5).attr("r", 2).attr("fill", "#d84838");
  }
  if (name === "Indonesia") horiz(["#e05040", "#f6f0f0"]);
}

// ---- pie
var pieGen = d3.pie().sort(null).value(function (d) { return d.share; });
var pieData = pieGen(pieShares.map(function (s, i) { return { name: pieNames[i], share: s, label: pieLabels[i], color: pieColors[i] }; }));
var pieArc = d3.arc().innerRadius(0).outerRadius(86);
var labelArc = d3.arc().innerRadius(69).outerRadius(69);
var pieG = svg.append("g").attr("transform", "translate(1117,710)");
pieG.selectAll("path").data(pieData).enter().append("path")
  .attr("d", pieArc)
  .attr("fill", function (d) { return d.data.color; })
  .attr("stroke", "#fff").attr("stroke-width", 0.8);
pieG.selectAll("text").data(pieData.filter(function (d) { return d.data.label; })).enter().append("text")
  .attr("transform", function (d) { return "translate(" + labelArc.centroid(d) + ")"; })
  .attr("dy", "0.35em")
  .attr("text-anchor", "middle")
  .attr("font-family", arial).attr("font-size", 8.5).attr("font-weight", 700).attr("fill", "#fff")
  .text(function (d) { return d.data.label; });
</script>
</body>
</html>
